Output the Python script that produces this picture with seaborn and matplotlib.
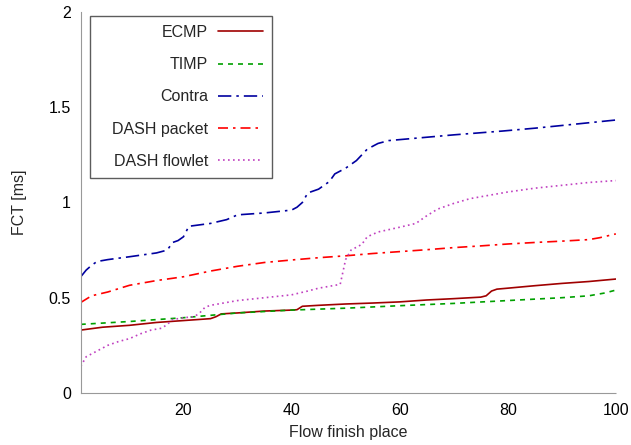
import numpy as np
import pandas as pd
import matplotlib
matplotlib.use("Agg")
import matplotlib.pyplot as plt
import seaborn as sns
from matplotlib.ticker import MultipleLocator, FuncFormatter
from matplotlib.offsetbox import DrawingArea

# Flow completion time (ms) by flow finish place
ecmp_x = [1, 5, 10, 15, 20, 25, 26, 27, 30, 35, 40, 41, 42, 45, 50, 55, 60, 65, 70, 75, 76, 77, 78, 80, 85, 90, 95, 100]
ecmp_y = [0.33, 0.345, 0.355, 0.37, 0.38, 0.39, 0.40, 0.415, 0.42, 0.43, 0.435, 0.437, 0.455, 0.46, 0.467, 0.472, 0.478, 0.488, 0.495, 0.503, 0.51, 0.535, 0.545, 0.55, 0.563, 0.575, 0.585, 0.598]

timp_x = [1, 10, 20, 30, 40, 50, 60, 70, 80, 90, 95, 98, 100]
timp_y = [0.36, 0.375, 0.395, 0.42, 0.435, 0.445, 0.458, 0.47, 0.485, 0.5, 0.51, 0.525, 0.54]

contra_x = [1, 2, 3, 4, 6, 10, 15, 17, 18, 19, 20, 21, 25, 28, 30, 35, 40, 41, 42, 43, 45, 47, 48, 50, 52, 54, 56, 58, 60, 66, 70, 79, 85, 91, 100]
contra_y = [0.61, 0.645, 0.67, 0.69, 0.70, 0.715, 0.735, 0.75, 0.79, 0.80, 0.82, 0.875, 0.89, 0.91, 0.935, 0.945, 0.96, 0.975, 1.0, 1.05, 1.07, 1.11, 1.15, 1.18, 1.22, 1.28, 1.31, 1.325, 1.33, 1.345, 1.355, 1.375, 1.39, 1.407, 1.433]

dash_pkt_x = [1, 3, 6, 10, 15, 20, 25, 30, 35, 40, 45, 50, 55, 60, 65, 70, 75, 80, 85, 90, 95, 97, 100]
dash_pkt_y = [0.475, 0.51, 0.53, 0.565, 0.59, 0.61, 0.64, 0.665, 0.685, 0.698, 0.71, 0.72, 0.732, 0.742, 0.752, 0.763, 0.772, 0.782, 0.79, 0.797, 0.805, 0.815, 0.835]

dash_flw_x = [1, 2, 4, 6, 8, 10, 12, 14, 16, 17, 18, 20, 22, 23, 24, 25, 27, 30, 35, 40, 43, 45, 47, 49, 50, 51, 53, 54, 56, 60, 63, 65, 67, 70, 73, 76, 80, 85, 90, 95, 100]
dash_flw_y = [0.14, 0.19, 0.22, 0.25, 0.27, 0.285, 0.31, 0.33, 0.34, 0.36, 0.385, 0.395, 0.40, 0.42, 0.45, 0.46, 0.47, 0.485, 0.50, 0.515, 0.535, 0.55, 0.56, 0.57, 0.70, 0.75, 0.78, 0.82, 0.845, 0.87, 0.89, 0.93, 0.965, 0.995, 1.02, 1.035, 1.055, 1.075, 1.09, 1.105, 1.115]

series = ["ECMP", "TIMP", "Contra", "DASH packet", "DASH flowlet"]
xs = [ecmp_x, timp_x, contra_x, dash_pkt_x, dash_flw_x]
ys = [ecmp_y, timp_y, contra_y, dash_pkt_y, dash_flw_y]

frames = [pd.DataFrame({"place": x, "fct": y, "scheme": s}) for s, x, y in zip(series, xs, ys)]
df = pd.concat(frames, ignore_index=True)

palette = {
    "ECMP": "#a00000",
    "TIMP": "#00a000",
    "Contra": "#0000a0",
    "DASH packet": "#ff0000",
    "DASH flowlet": "#c040c0",
}
dashes = {
    "ECMP": "",
    "TIMP": (3, 3),
    "Contra": (8, 3, 1.5, 3),
    "DASH packet": (6, 3, 1.5, 3),
    "DASH flowlet": (1, 2),
}

sns.set_style("white")
plt.rcParams["font.family"] = ["Liberation Sans", "DejaVu Sans"]

FS = 11.5

fig = plt.figure(figsize=(6.31, 4.45), dpi=100)
ax = fig.add_axes([0.128, 0.117, 0.848, 0.856])

sns.lineplot(data=df, x="place", y="fct", hue="scheme", style="scheme",
             hue_order=series, style_order=series, palette=palette,
             dashes=dashes, linewidth=1.2, estimator=None, sort=False, ax=ax)

ax.set_xlim(1, 100)
ax.set_ylim(0, 2)
ax.xaxis.set_major_locator(MultipleLocator(20))
ax.xaxis.set_minor_locator(MultipleLocator(10))
ax.yaxis.set_major_locator(MultipleLocator(0.5))
ax.yaxis.set_minor_locator(MultipleLocator(0.1))
ax.yaxis.set_major_formatter(FuncFormatter(lambda v, p: f"{v:g}"))

for side in ["top", "right"]:
    ax.spines[side].set_visible(False)
for side in ["left", "bottom"]:
    ax.spines[side].set_color("#999999")
    ax.spines[side].set_linestyle((0, (1, 1)))
    ax.spines[side].set_linewidth(0.8)

ax.tick_params(axis="both", which="both", direction="in", colors="#aaaaaa",
               labelcolor="black", labelsize=FS, width=0.6)
ax.tick_params(axis="both", which="major", length=3, pad=7)
ax.tick_params(axis="both", which="minor", length=1.5)

ax.set_xlabel("Flow finish place", fontsize=FS, labelpad=5)
ax.set_ylabel("FCT [ms]", fontsize=FS, labelpad=16)

leg = ax.legend(loc="upper left", bbox_to_anchor=(0.017, 0.989), markerfirst=False,
                fontsize=FS, frameon=True, fancybox=False, handlelength=2.85,
                handletextpad=0.6, labelspacing=1.08, borderpad=0.55,
                borderaxespad=0.0, title=None)
leg.get_frame().set_edgecolor("#333333")
leg.get_frame().set_linewidth(1.0)
for t in leg.get_texts():
    t.set_ha("right")
leg._legend_box.align = "right"

# extra blank space on the left side of the legend entries
hbox = leg._legend_handle_box
hbox._children.insert(0, DrawingArea(9.5, 1))
hbox.sep = 0

fig.savefig("out.png", dpi=100)
